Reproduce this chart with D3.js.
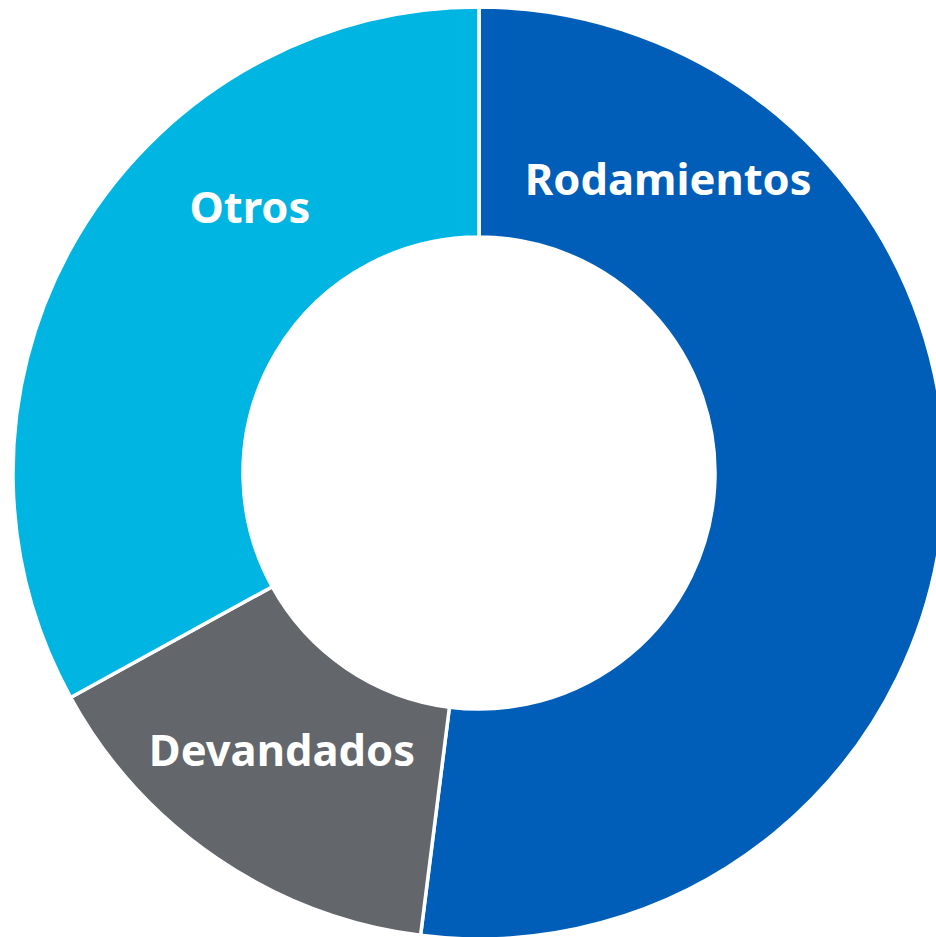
<!DOCTYPE html>
<html>
<head>
<meta charset="utf-8">
<script src="https://cdn.jsdelivr.net/npm/d3@7"></script>
<style>
  html, body { margin: 0; padding: 0; background: #fff; }
  svg { display: block; }
  .label { font-family: "Noto Sans", sans-serif; font-weight: 700; fill: #fff; }
</style>
</head>
<body>
<div id="chart"></div>
<script>
const categories = ["Rodamientos", "Devandados", "Otros"];
const values = [52, 15, 33];
const colors = ["#005EB8", "#63666A", "#00B5E2"];
// where each label sits around the ring (radians clockwise from top, distance from centre)
const labelAngles = [0.573, 3.760, 5.572];
const labelRadii = [349, 340, 351];

const width = 936;
const height = 937;
const cx = 479, cy = 473;
const outerRadius = 466;
const innerRadius = 236;

const svg = d3.select("#chart").append("svg")
	.attr("width", width)
	.attr("height", height);

const g = svg.append("g").attr("transform", `translate(${cx},${cy})`);

const data = categories.map((c, i) => ({
	category: c,
	value: values[i],
	color: colors[i],
	labelAngle: labelAngles[i],
	labelRadius: labelRadii[i]
}));

const pie = d3.pie().value(d => d.value).sort(null);
const arc = d3.arc().innerRadius(innerRadius).outerRadius(outerRadius);

g.selectAll("path.slice")
	.data(pie(data))
	.join("path")
	.attr("class", "slice")
	.attr("d", arc)
	.attr("fill", d => d.data.color)
	.attr("stroke", "#fff")
	.attr("stroke-width", 3.5)
	.attr("stroke-linejoin", "miter");

g.selectAll("text.label")
	.data(data)
	.join("text")
	.attr("class", "label")
	.attr("x", d => d.labelRadius * Math.sin(d.labelAngle))
	.attr("y", d => -d.labelRadius * Math.cos(d.labelAngle))
	.attr("dy", "0.36em")
	.attr("text-anchor", "middle")
	.style("font-size", "43.5px")
	.text(d => d.category);
</script>
</body>
</html>
